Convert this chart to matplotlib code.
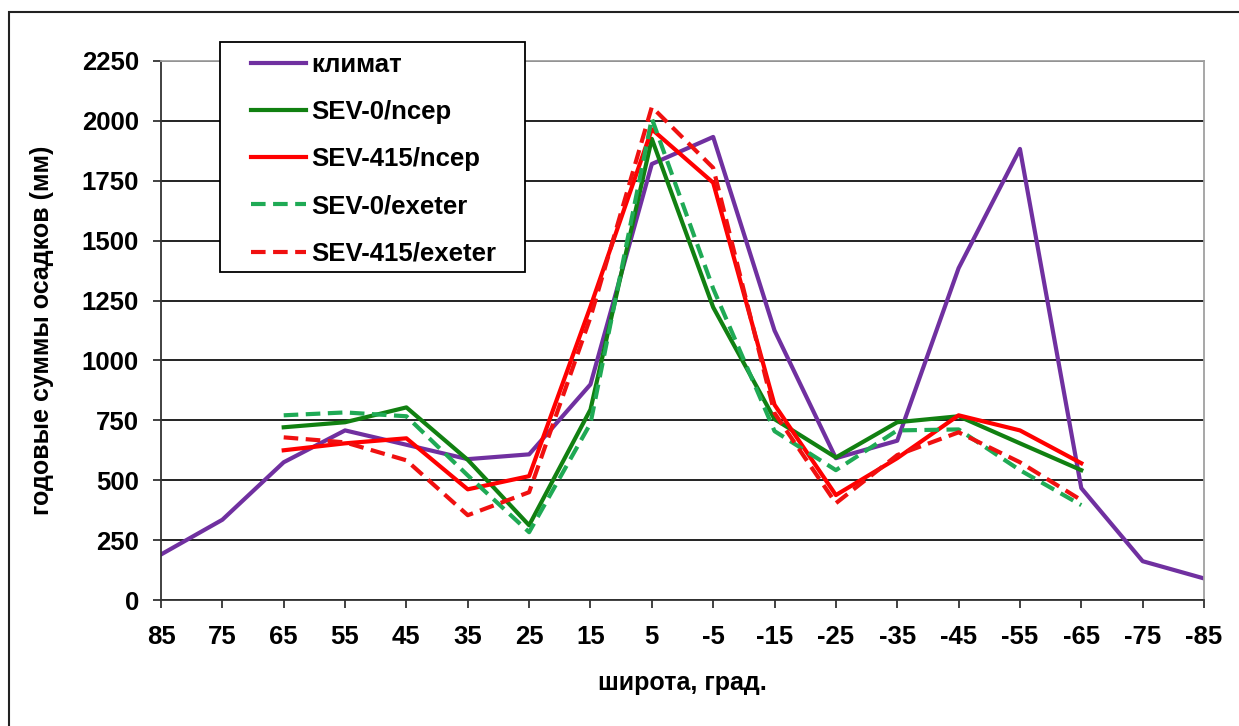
import numpy as np
import matplotlib
matplotlib.use('Agg')
import matplotlib.pyplot as plt
from matplotlib.patches import Rectangle

# latitude categories (85 .. -85)
lat = [85, 75, 65, 55, 45, 35, 25, 15, 5, -5, -15, -25, -35, -45, -55, -65, -75, -85]

# model runs only cover 65 .. -65
lat_model = lat[2:16]

climate = [190, 335, 575, 708, 648, 588, 608, 900, 1820, 1933,
           1125, 592, 665, 1385, 1883, 467, 162, 90]
sev0_ncep = [721, 742, 804, 585, 312, 795, 1925, 1222, 755, 595,
             742, 767, 654, 542]
sev415_ncep = [625, 654, 675, 462, 517, 1225, 1965, 1742, 815, 438,
               592, 771, 708, 571]
sev0_exeter = [771, 783, 767, 520, 283, 737, 2010, 1300, 705, 542,
               708, 712, 542, 396]
sev415_exeter = [679, 658, 583, 354, 450, 1180, 2058, 1804, 780, 404,
                 605, 700, 575, 417]

yticks = [0, 250, 500, 750, 1000, 1250, 1500, 1750, 2000, 2250]

FONT = 'Liberation Sans'
FS = 18.5
W, H = 1239, 726

fig = plt.figure(figsize=(W / 100, H / 100), dpi=100)
ax = fig.add_axes([161 / W, 1 - 600 / H, (1204 - 161) / W, (600 - 61) / H])

ax.plot(lat, climate, color='#7030A0', lw=3, label='климат')
ax.plot(lat_model, sev0_ncep, color='#118011', lw=3, label='SEV-0/ncep')
ax.plot(lat_model, sev415_ncep, color='#FF0000', lw=3, label='SEV-415/ncep')
ax.plot(lat_model, sev0_exeter, color='#1FAA55', lw=3, dashes=(3.5, 1.8),
        label='SEV-0/exeter')
ax.plot(lat_model, sev415_exeter, color='#F01010', lw=3, dashes=(3.5, 1.8),
        label='SEV-415/exeter')

ax.set_xlim(85, -85)
ax.set_ylim(0, 2250)
ax.set_xticks(lat)
ax.set_xticklabels([str(v) for v in lat])
ax.set_yticks(yticks)

ax.grid(axis='y', color='#111111', lw=1.3)
ax.set_axisbelow(True)
for side in ('top', 'right'):
    ax.spines[side].set_color('#A0A0A0')
    ax.spines[side].set_linewidth(1.3)
for side in ('left', 'bottom'):
    ax.spines[side].set_color('#333333')
    ax.spines[side].set_linewidth(1.3)

ax.tick_params(axis='x', direction='out', length=6, width=1.3, pad=12,
               color='#333333')
ax.tick_params(axis='y', direction='out', length=6, width=1.3, pad=10,
               color='#333333')
for lab in ax.get_xticklabels() + ax.get_yticklabels():
    lab.set_fontfamily(FONT)
    lab.set_fontweight('bold')
    lab.set_fontsize(FS)

ax.set_xlabel('широта, град.', fontfamily=FONT, fontweight='bold',
              fontsize=18, labelpad=16)
ax.set_ylabel('годовые суммы осадков (мм)', fontfamily=FONT,
              fontweight='bold', fontsize=18, labelpad=20)

# legend box drawn separately so the inner padding can match
box = Rectangle((220 / W, 1 - 272 / H), (525 - 220) / W, (272 - 42) / H,
                transform=fig.transFigure, facecolor='white',
                edgecolor='black', lw=1.3, zorder=4, clip_on=False)
ax.add_patch(box)
leg = ax.legend(loc='upper left', bbox_to_anchor=(251 / W, 1 - 53 / H),
                bbox_transform=fig.transFigure, borderaxespad=0,
                frameon=False, borderpad=0,
                handlelength=2.15, handletextpad=0.2, labelspacing=0.9,
                prop={'family': FONT, 'weight': 'bold', 'size': FS})
leg.set_zorder(5)

# outer chart frame
fig.patches.append(Rectangle((9 / W, -0.1), 1.2, 1 - 12 / H + 0.1,
                             transform=fig.transFigure, fill=False,
                             edgecolor='#222222', lw=1.5))

fig.savefig('out.png', dpi=100)
